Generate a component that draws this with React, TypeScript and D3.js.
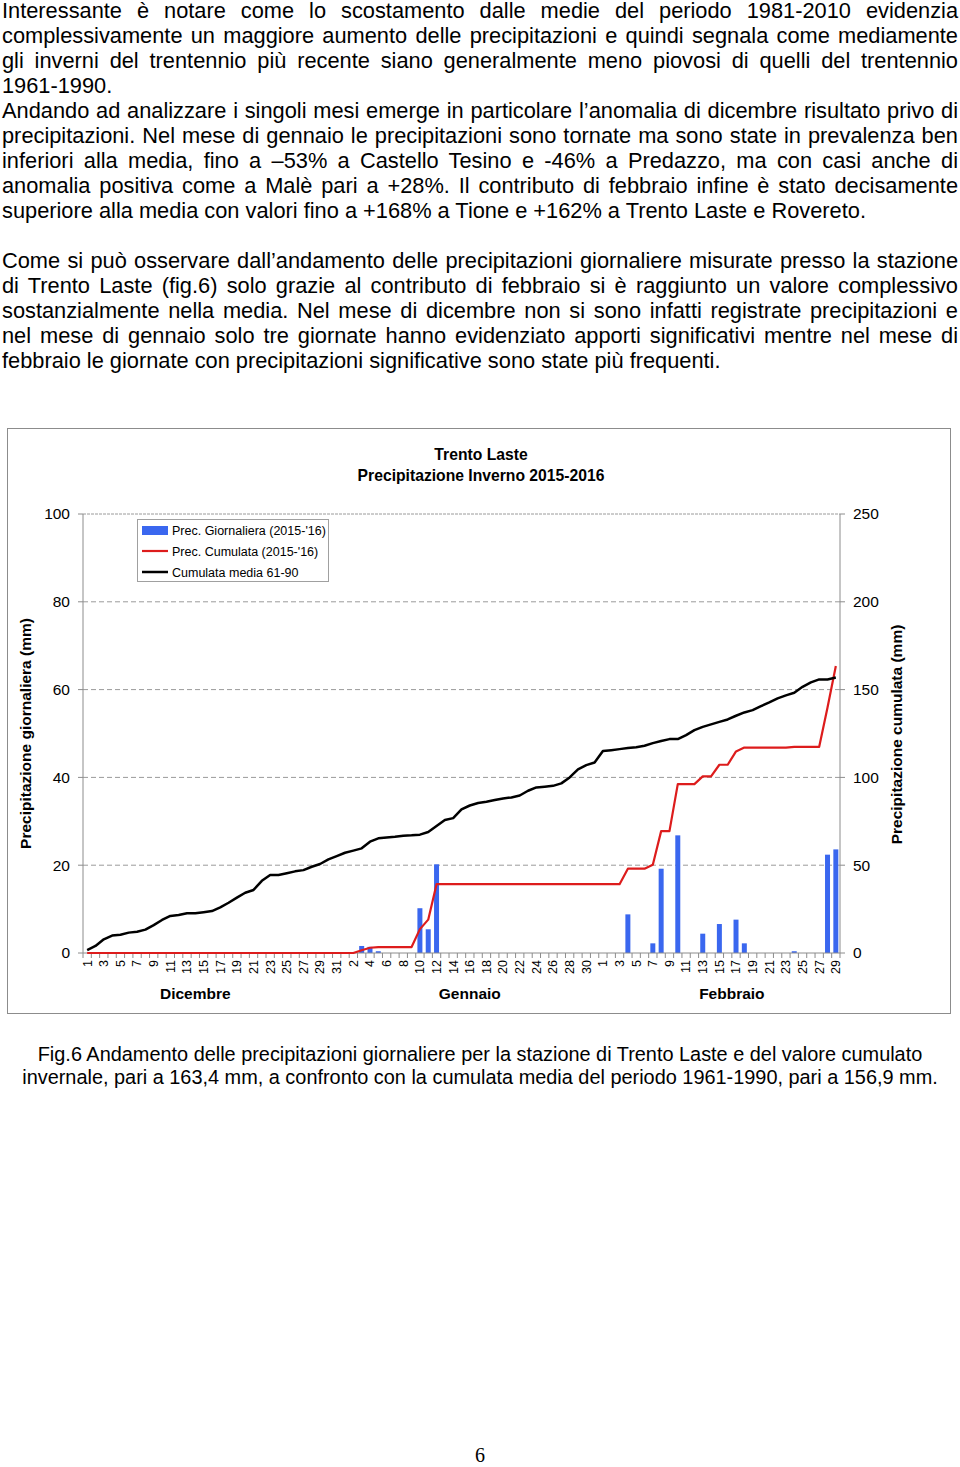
import React, { useLayoutEffect, useRef } from 'react';
import * as d3 from 'd3';

// ---------- DATA ----------
const monthNames = ['Dicembre', 'Gennaio', 'Febbraio'];
const monthLengths = [31, 31, 29];

// daily precipitation 2015-'16 (mm)
const precDec = [0, 0, 0, 0, 0, 0, 0, 0, 0, 0, 0, 0, 0, 0, 0, 0, 0, 0, 0, 0, 0, 0, 0, 0, 0, 0, 0, 0, 0, 0, 0];
const precJan = [0, 0, 1.6, 1.4, 0.4, 0, 0, 0, 0, 10.2, 5.4, 20.2, 0, 0, 0, 0, 0, 0, 0, 0, 0, 0, 0, 0, 0, 0, 0, 0, 0, 0, 0];
const precFeb = [0, 0, 0, 8.8, 0, 0, 2.2, 19.2, 0, 26.8, 0, 0, 4.4, 0, 6.6, 0, 7.6, 2.2, 0, 0, 0, 0, 0, 0.4, 0, 0, 0, 22.4, 23.6];

// cumulative mean 1961-90 (mm)
const mediaDec = [1.7, 4.0, 7.8, 9.9, 10.4, 11.6, 12.1, 13.3, 15.9, 18.8, 21.1, 21.6, 22.6, 22.6, 23.2, 23.9, 26.0, 28.6, 31.5, 34.3, 35.9, 41.1, 44.4, 44.4, 45.4, 46.5, 47.2, 49.1, 50.7, 53.3, 55.2];
const mediaJan = [57.1, 58.3, 59.6, 63.4, 65.3, 65.8, 66.2, 66.8, 67.0, 67.4, 68.9, 72.3, 75.7, 76.8, 81.8, 84.0, 85.4, 86.1, 87.1, 88.0, 88.6, 89.7, 92.4, 94.3, 94.7, 95.2, 96.6, 100.0, 104.6, 107.0, 108.5];
const mediaFeb = [115.0, 115.5, 116.1, 116.7, 117.2, 118.0, 119.5, 120.7, 121.8, 121.8, 124.1, 126.9, 128.8, 130.2, 131.6, 133.0, 135.1, 137.0, 138.3, 140.6, 142.7, 145.0, 146.7, 148.2, 151.6, 154.1, 155.8, 155.8, 156.9];

const leftTicks = [0, 20, 40, 60, 80, 100];
const rightTicks = [0, 50, 100, 150, 200, 250];

const legendItems = ["Prec. Giornaliera (2015-'16)", "Prec. Cumulata (2015-'16)", 'Cumulata media 61-90'];

const titleLines = ['Trento Laste', 'Precipitazione Inverno 2015-2016'];

const bodyLines: { t: string; j: boolean }[] = [
  { t: 'Interessante è notare come lo scostamento dalle medie del periodo 1981-2010 evidenzia', j: true },
  { t: 'complessivamente un maggiore aumento delle precipitazioni e quindi segnala come mediamente', j: true },
  { t: 'gli inverni del trentennio più recente siano generalmente meno piovosi di quelli del trentennio', j: true },
  { t: '1961-1990.', j: false },
  { t: 'Andando ad analizzare i singoli mesi emerge in particolare l’anomalia di dicembre risultato privo di', j: true },
  { t: 'precipitazioni. Nel mese di gennaio le precipitazioni sono tornate ma sono state in prevalenza ben', j: true },
  { t: 'inferiori alla media, fino a –53% a Castello Tesino e -46% a Predazzo, ma con casi anche di', j: true },
  { t: 'anomalia positiva come a Malè pari a +28%. Il contributo di febbraio infine è stato decisamente', j: true },
  { t: 'superiore alla media con valori fino a +168% a Tione e +162% a Trento Laste e Rovereto.', j: false },
  { t: '', j: false },
  { t: 'Come si può osservare dall’andamento delle precipitazioni giornaliere misurate presso la stazione', j: true },
  { t: 'di Trento Laste (fig.6) solo grazie al contributo di febbraio si è raggiunto un valore complessivo', j: true },
  { t: 'sostanzialmente nella media. Nel mese di dicembre non si sono infatti registrate precipitazioni e', j: true },
  { t: 'nel mese di gennaio solo tre giornate hanno evidenziato apporti significativi mentre nel mese di', j: true },
  { t: 'febbraio le giornate con precipitazioni significative sono state più frequenti.', j: false },
];

const captionLines = [
  'Fig.6 Andamento delle precipitazioni giornaliere per la stazione di Trento Laste e del valore cumulato',
  'invernale, pari a 163,4 mm, a confronto con la cumulata media del periodo 1961-1990, pari a 156,9 mm.',
];

// ---------- DERIVED ----------
const dayLabels: string[] = [];
monthLengths.forEach((n) => {
  for (let d = 1; d <= n; d++) dayLabels.push(String(d));
});
const prec = [...precDec, ...precJan, ...precFeb];
const media = [...mediaDec, ...mediaJan, ...mediaFeb];
const cumul = Array.from(d3.cumsum(prec));
const idx = d3.range(prec.length);

const FONT = "'Liberation Sans', Arial, Helvetica, sans-serif";

const PL = 83, PR = 840, PT = 514, PB = 953;

export default function App() {
  const textRefs = useRef<(SVGTextElement | null)[]>([]);

  useLayoutEffect(() => {
    const target = 956;
    bodyLines.forEach((l, i) => {
      const node = textRefs.current[i];
      if (!node || !l.j) return;
      node.style.wordSpacing = '0px';
      const w = node.getComputedTextLength();
      const spaces = (l.t.match(/ /g) || []).length;
      if (spaces > 0) node.style.wordSpacing = `${(target - w) / spaces}px`;
    });
  }, []);

  const x = d3.scaleBand<number>().domain(idx).range([PL, PR]).paddingInner(0.4).paddingOuter(0.2);
  const step = x.step();
  const cx = (i: number) => (x(i) as number) + x.bandwidth() / 2;
  const yL = d3.scaleLinear().domain([0, 100]).range([PB, PT]);
  const yR = d3.scaleLinear().domain([0, 250]).range([PB, PT]);

  const lineCum = d3.line<number>().x((_, i) => cx(i)).y((d) => yR(d));

  const monthCenters = [13, 46, 77.5];

  return (
    <svg width={960} height={1467} style={{ position: 'absolute', left: 0, top: 0, background: '#fff' }} fontFamily={FONT}>
      <rect x={0} y={0} width={960} height={1467} fill="#fff" />
      {/* body text */}
      {bodyLines.map((l, i) => (
        <text
          key={i}
          ref={(el) => { textRefs.current[i] = el; }}
          x={2}
          y={18 + i * 25}
          fontSize={21.8}
          fill="#000"
        >
          {l.t}
        </text>
      ))}

      {/* chart frame */}
      <rect x={7.5} y={428.5} width={943} height={585} fill="#fff" stroke="#8c8c8c" strokeWidth={1} />

      {/* title */}
      {titleLines.map((t, i) => (
        <text key={t} x={481} y={460 + i * 21} textAnchor="middle" fontWeight="bold" fontSize={15.7} fill="#000">
          {t}
        </text>
      ))}

      {/* gridlines */}
      {leftTicks.filter((v) => v > 0).map((v) => (
        <line key={v} x1={PL} x2={PR} y1={yL(v)} y2={yL(v)} stroke="#9a9a9a" strokeWidth={1} strokeDasharray={v === 100 ? '3,1' : '5,3'} />
      ))}

      {/* bars */}
      {prec.map((v, i) =>
        v > 0 ? (
          <rect key={i} x={x(i)} y={yL(v)} width={x.bandwidth()} height={PB - yL(v)} fill="#3a67ef" />
        ) : null
      )}

      {/* axes */}
      <line x1={PL} x2={PL} y1={PT} y2={PB} stroke="#8c8c8c" />
      <line x1={PR} x2={PR} y1={PT} y2={PB} stroke="#8c8c8c" />
      <line x1={PL} x2={PR} y1={PB} y2={PB} stroke="#8c8c8c" />
      {leftTicks.map((v) => (
        <g key={'l' + v}>
          <line x1={PL - 5} x2={PL} y1={yL(v)} y2={yL(v)} stroke="#8c8c8c" />
          <text x={70} y={yL(v)} dy="0.35em" textAnchor="end" fontSize={15.5} fill="#000">{v}</text>
        </g>
      ))}
      {rightTicks.map((v) => (
        <g key={'r' + v}>
          <line x1={PR} x2={PR + 5} y1={yR(v)} y2={yR(v)} stroke="#8c8c8c" />
          <text x={853} y={yR(v)} dy="0.35em" textAnchor="start" fontSize={15.5} fill="#000">{v}</text>
        </g>
      ))}
      {d3.range(prec.length + 1).map((k) => (
        <line key={'t' + k} x1={PL + k * step} x2={PL + k * step} y1={PB} y2={PB + 5} stroke="#8c8c8c" />
      ))}
      {dayLabels.map((d, i) =>
        i % 2 === 0 ? (
          <text key={'d' + i} transform={`translate(${cx(i)},${PB + 7}) rotate(-90)`} dy="0.35em" textAnchor="end" fontSize={12.5} fill="#000">
            {d}
          </text>
        ) : null
      )}
      {monthNames.map((m, k) => (
        <text key={m} x={PL + (monthCenters[k] + 0.5) * step} y={999} textAnchor="middle" fontWeight="bold" fontSize={15.5} fill="#000">
          {m}
        </text>
      ))}

      {/* axis titles */}
      <text transform={`translate(31,${(PT + PB) / 2}) rotate(-90)`} textAnchor="middle" fontWeight="bold" fontSize={15.5} fill="#000">
        Precipitazione giornaliera (mm)
      </text>
      <text transform={`translate(902,${(PT + PB) / 2 + 1}) rotate(-90)`} textAnchor="middle" fontWeight="bold" fontSize={15.5} fill="#000">
        Precipitazione cumulata (mm)
      </text>

      {/* lines */}
      <path d={lineCum(cumul) || ''} fill="none" stroke="#dd1c1c" strokeWidth={2.2} strokeLinejoin="round" />
      <path d={lineCum(media) || ''} fill="none" stroke="#000" strokeWidth={2.5} strokeLinejoin="round" />

      {/* legend */}
      <rect x={137.5} y={519.5} width={191} height={62} fill="#fff" stroke="#a0a0a0" />
      <rect x={142} y={526} width={26} height={9} fill="#3a67ef" />
      <line x1={142} x2={168} y1={551} y2={551} stroke="#dd1c1c" strokeWidth={2.2} />
      <line x1={142} x2={168} y1={572} y2={572} stroke="#000" strokeWidth={2.5} />
      {legendItems.map((t, i) => (
        <text key={t} x={172} y={530.5 + i * 21} dy="0.35em" fontSize={12.5} fill="#000">{t}</text>
      ))}

      {/* caption */}
      {captionLines.map((t, i) => (
        <text key={i} x={480} y={1061 + i * 23} textAnchor="middle" fontSize={19.9} fill="#000">{t}</text>
      ))}

      {/* page number */}
      <text x={480} y={1462} textAnchor="middle" fontSize={20} fontFamily="'Liberation Serif', 'Times New Roman', serif" fill="#000">6</text>
    </svg>
  );
}
